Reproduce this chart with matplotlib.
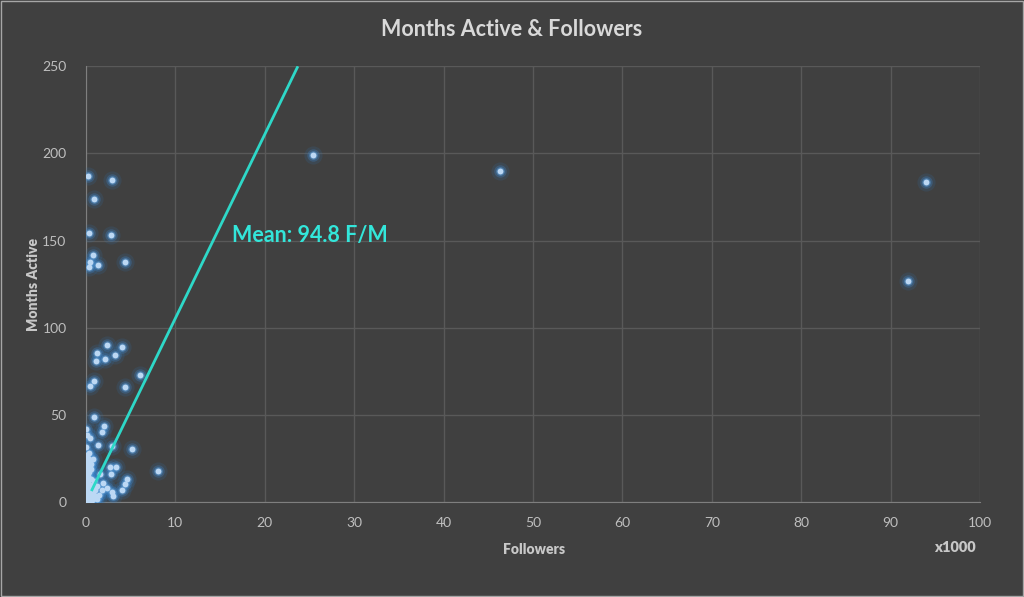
import numpy as np
import matplotlib.pyplot as plt

# followers in thousands, months active
followers = [0.26, 2.9, 0.93, 0.37, 2.76, 0.75, 0.45, 0.35, 1.35, 4.4,
             2.3, 4.0, 1.2, 3.2, 1.1, 2.1, 6.0, 0.9, 0.45, 4.4, 0.9,
             2.05, 1.75, 0.0, 0.1, 0.45, 1.3, 2.9, 5.1, 8.1, 0.0, 0.25,
             0.75, 0.0, 2.7, 3.4, 2.75, 1.6, 4.55, 4.4, 1.9, 2.3, 2.9,
             4.0, 3.05, 1.75, 1.2, 1.4,
             25.4, 46.3, 94.0, 91.9,
             0.05, 0.1, 0.2, 0.15, 0.3, 0.4, 0.05, 0.1, 0.25, 0.5,
             0.6, 0.35, 0.2, 0.1, 0.05, 0.15, 0.3, 0.45, 0.7, 0.8,
             0.55, 0.9, 1.0, 0.65, 0.2, 0.1, 0.05, 0.3, 0.4, 0.15,
             0.25, 0.6, 1.1, 0.85, 0.5, 0.35, 0.05, 0.12, 0.18, 0.08,
             0.22, 0.4, 0.7, 0.95, 1.25, 0.3, 0.02, 0.6]
months = [187, 184.6, 173.6, 154.4, 153.3, 142, 138, 135, 136, 138,
          90, 89, 85.8, 84.3, 81, 81.8, 72.8, 69.6, 66.7, 65.8, 48.6,
          43.6, 40.3, 41.9, 38.4, 36.5, 32.7, 32.3, 30.2, 18, 31.7, 25,
          24.5, 23.1, 19.9, 19.9, 16.1, 16, 13, 10.3, 11, 7.8, 5.9,
          6.9, 3.4, 6.9, 9.2, 4,
          199, 190, 183.7, 126.7,
          1, 2, 3, 5, 4, 2, 8, 12, 15, 6,
          3, 10, 20, 18, 27, 22, 7, 9, 5, 2,
          13, 4, 8, 1, 11, 14, 0.5, 17, 24, 6,
          9, 19, 3, 12, 1.5, 28, 4, 7, 2.5, 16,
          13, 5, 10, 7, 2, 1, 3, 22]

mean_ratio = 94.8  # followers per month
title = 'Months Active & Followers'

BG = '#404040'
plt.rcParams['font.family'] = ['Lato', 'DejaVu Sans']
fig = plt.figure(figsize=(10.24, 5.97), dpi=100, facecolor=BG)
ax = fig.add_axes([0.084, 0.159, 0.873, 0.730])
ax.set_facecolor(BG)

# glow + core markers
ax.scatter(followers, months, s=170, color='#2e75b6', alpha=0.16, linewidths=0, zorder=3)
ax.scatter(followers, months, s=80, color='#3d85cc', alpha=0.30, linewidths=0, zorder=3)
ax.scatter(followers, months, s=38, color='#5b9bd5', alpha=0.55, linewidths=0, zorder=3)
ax.scatter(followers, months, s=18, color='#bcd8f4', linewidths=0, zorder=4)

# mean ratio line
x_end = 250 * mean_ratio / 1000
xs = np.array([0.6, x_end])
ax.plot(xs, xs * 1000 / mean_ratio, color='#2ed8c8', lw=2, zorder=5, solid_capstyle='butt')
ax.text(16.3, 153, 'Mean: 94.8 F/M', color='#33e6da', fontsize=15.5,
        fontweight='bold', va='center', ha='left', zorder=6)

ax.set_xlim(0, 100)
ax.set_ylim(0, 250)
ax.set_xticks(np.arange(0, 101, 10))
ax.set_yticks(np.arange(0, 251, 50))
ax.grid(True, color='#595959', lw=1)
ax.set_axisbelow(True)
for s in ['top', 'right']:
    ax.spines[s].set_visible(False)
for s in ['left', 'bottom']:
    ax.spines[s].set_color('#7f7f7f')
ax.tick_params(axis='y', length=0, colors='#bfbfbf', labelsize=10, pad=14)
ax.tick_params(axis='x', length=0, colors='#bfbfbf', labelsize=10, pad=11)

ax.set_xlabel('Followers', color='#c8c8c8', fontsize=10, fontweight='heavy')
ax.set_ylabel('Months Active', color='#c8c8c8', fontsize=10, fontweight='heavy')
ax.xaxis.set_label_coords(0.501, -0.094)
ax.yaxis.set_label_coords(-0.051, 0.5)
fig.text(955 / 1024, 1 - 548 / 597, 'x1000', color='#c8c8c8', fontsize=10.5,
         fontweight='heavy', ha='center', va='center')
fig.text(0.5, 1 - 30 / 597, title, color='#d9d9d9', fontsize=15.5,
         fontweight='bold', ha='center', va='center')

fig.patches.append(plt.Rectangle((0.001, 0.001), 0.998, 0.997, transform=fig.transFigure,
                                 fill=False, edgecolor='#a6a6a6', lw=1))

fig.savefig('out.png', dpi=100, facecolor=BG)
